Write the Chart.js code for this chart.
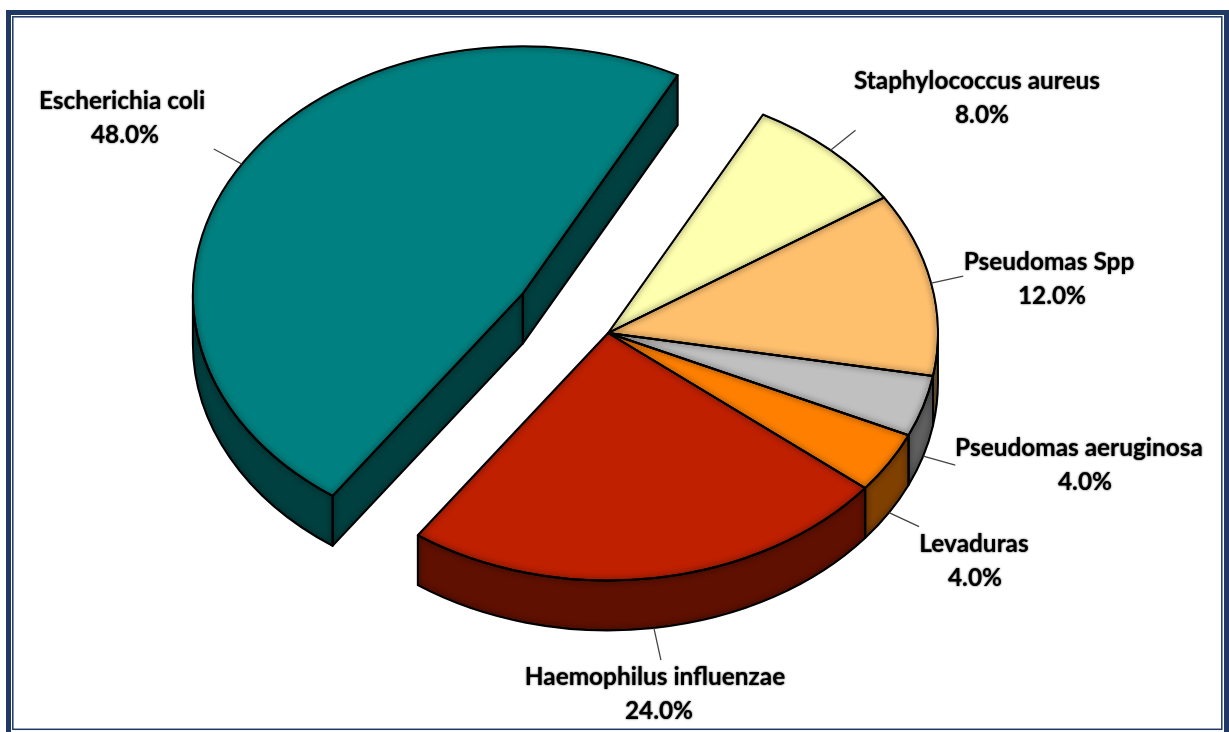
<!DOCTYPE html>
<html><head><meta charset="utf-8">
<script src="https://cdn.jsdelivr.net/npm/chart.js@4"></script>
<style>html,body{margin:0;padding:0;background:#fff;overflow:hidden}canvas{display:block}</style>
</head><body>
<canvas id="c" width="1229" height="732"></canvas>
<script>
const categories = ["Escherichia coli","Staphylococcus aureus","Pseudomas Spp","Pseudomas aeruginosa","Levaduras","Haemophilus influenzae"];
const shares = [48,8,12,4,4,24];
const topColors = ["#008080","#FFFFB0","#FFC06E","#C0C0C0","#FF8000","#BF2000"];
const wallColors = ["#004040","#808058","#806037","#606060","#804000","#5F1000"];
const explodeBy = [100,0,0,0,0,0];
// label text anchors [x of centre, middle y of name line], share-line x nudge, and leader outer-end offset from the rim
const labelAnchors = [[122,101],[977,81],[1049,262],[1079,448],[974,544],[655,677]];
const shareNudge = [3,5,3,6,1,4];
const leaderReach = [[-28,-15],[25,-20],[32,-7],[32,9],[30,14],[7,32]];

const SQUASH = 0.75, DEPTH = 50, CY = 333, NAVY = "#1F3864";
const FONT = 'bold 24.4px Lato, "Noto Sans", sans-serif';

function geom(a){
  return {x:a.x, y:CY+(a.y-CY)*SQUASH, r:a.outerRadius, ry:a.outerRadius*SQUASH, s:a.startAngle, e:a.endAngle};
}
function topPath(g){
  const p=new Path2D(); p.moveTo(g.x,g.y); p.ellipse(g.x,g.y,g.r,g.ry,0,g.s,g.e); p.closePath(); return p;
}
function rim(g,t,dy=0){ return [g.x+g.r*Math.cos(t), g.y+g.ry*Math.sin(t)+dy]; }
function shaded(ctx,p,fill){
  ctx.save(); ctx.fillStyle=fill; ctx.fill(p);
  ctx.clip(p); ctx.shadowColor="rgba(0,0,0,.75)"; ctx.shadowBlur=6; ctx.strokeStyle="#000"; ctx.lineWidth=2; ctx.stroke(p);
  ctx.restore();
}
function outline(ctx,p){ ctx.save(); ctx.strokeStyle="#000"; ctx.lineWidth=1.9; ctx.lineJoin="round"; ctx.stroke(p); ctx.restore(); }

const pie3d = {
  id:"pie3d",
  afterDatasetsUpdate(chart){
    chart.getDatasetMeta(0).data.forEach((a,i)=>{
      const m=(a.startAngle+a.endAngle)/2;
      a.x+=Math.cos(m)*explodeBy[i]; a.y+=Math.sin(m)*explodeBy[i];
    });
  },
  beforeDraw(chart){
    const c=chart.ctx; c.save();
    c.fillStyle="#fff"; c.fillRect(0,0,1229,732);
    c.strokeStyle=NAVY; c.lineWidth=5; c.strokeRect(8.5,12.5,1218,722);
    c.lineWidth=1.5; c.strokeRect(12.8,16.8,1209,712.5);
    c.restore();
  },
  beforeDatasetsDraw(chart){
    const c=chart.ctx, arcs=chart.getDatasetMeta(0).data;
    arcs.forEach((a,i)=>{
      const g=geom(a);
      if(explodeBy[i]>0){
        [g.s,g.e].forEach((t,k)=>{
          const vis=k===0?Math.cos(t)<0:Math.cos(t)>0;
          if(!vis) return;
          const [rx,ry]=rim(g,t), p=new Path2D();
          p.moveTo(g.x,g.y); p.lineTo(rx,ry); p.lineTo(rx,ry+DEPTH); p.lineTo(g.x,g.y+DEPTH); p.closePath();
          shaded(c,p,wallColors[i]); outline(c,p);
        });
      }
      for(const off of [0,2*Math.PI]){
        const s=Math.max(g.s-off,0), e=Math.min(g.e-off,Math.PI);
        if(e<=s) continue;
        const p=new Path2D();
        p.ellipse(g.x,g.y,g.r,g.ry,0,s,e);
        p.ellipse(g.x,g.y+DEPTH,g.r,g.ry,0,e,s,true);
        p.closePath();
        shaded(c,p,wallColors[i]); outline(c,p);
      }
    });
    c.save();
    c.translate(0,CY); c.scale(1,SQUASH); c.translate(0,-CY);
  },
  afterDatasetsDraw(chart){
    const c=chart.ctx, arcs=chart.getDatasetMeta(0).data;
    c.restore();
    arcs.forEach((a,i)=>{ const p=topPath(geom(a)); shaded(c,p,topColors[i]); });
    arcs.forEach(a=>outline(c,topPath(geom(a))));
    // leaders
    arcs.forEach((a,i)=>{
      const g=geom(a), m=(g.s+g.e)/2, dy=Math.sin(m)>0?DEPTH:0, [x,y]=rim(g,m,dy);
      c.save(); c.strokeStyle="#444"; c.lineWidth=1.3;
      c.beginPath(); c.moveTo(x,y); c.lineTo(x+leaderReach[i][0],y+leaderReach[i][1]); c.stroke(); c.restore();
    });
    // labels
    c.save(); c.font=FONT; c.fillStyle="#000"; c.textAlign="center"; c.textBaseline="middle";
    c.shadowColor="rgba(0,0,0,.8)"; c.shadowBlur=2;
    const total=shares.reduce((s,v)=>s+v,0);
    categories.forEach((n,i)=>{
      const [x,y]=labelAnchors[i];
      c.fillText(n,x,y);
      c.fillText((shares[i]/total*100).toFixed(1)+"%",x+shareNudge[i],y+34);
    });
    c.restore();
  }
};

new Chart(document.getElementById("c"),{
  type:"pie",
  data:{labels:categories,datasets:[{data:shares,backgroundColor:topColors,borderWidth:0,clip:false}]},
  options:{
    responsive:false,animation:false,rotation:215.2,radius:330,
    layout:{padding:{left:0,right:13,top:0,bottom:66}},
    plugins:{legend:{display:false},tooltip:{enabled:false}},
    events:[]
  },
  plugins:[pie3d]
});
</script>
</body></html>
